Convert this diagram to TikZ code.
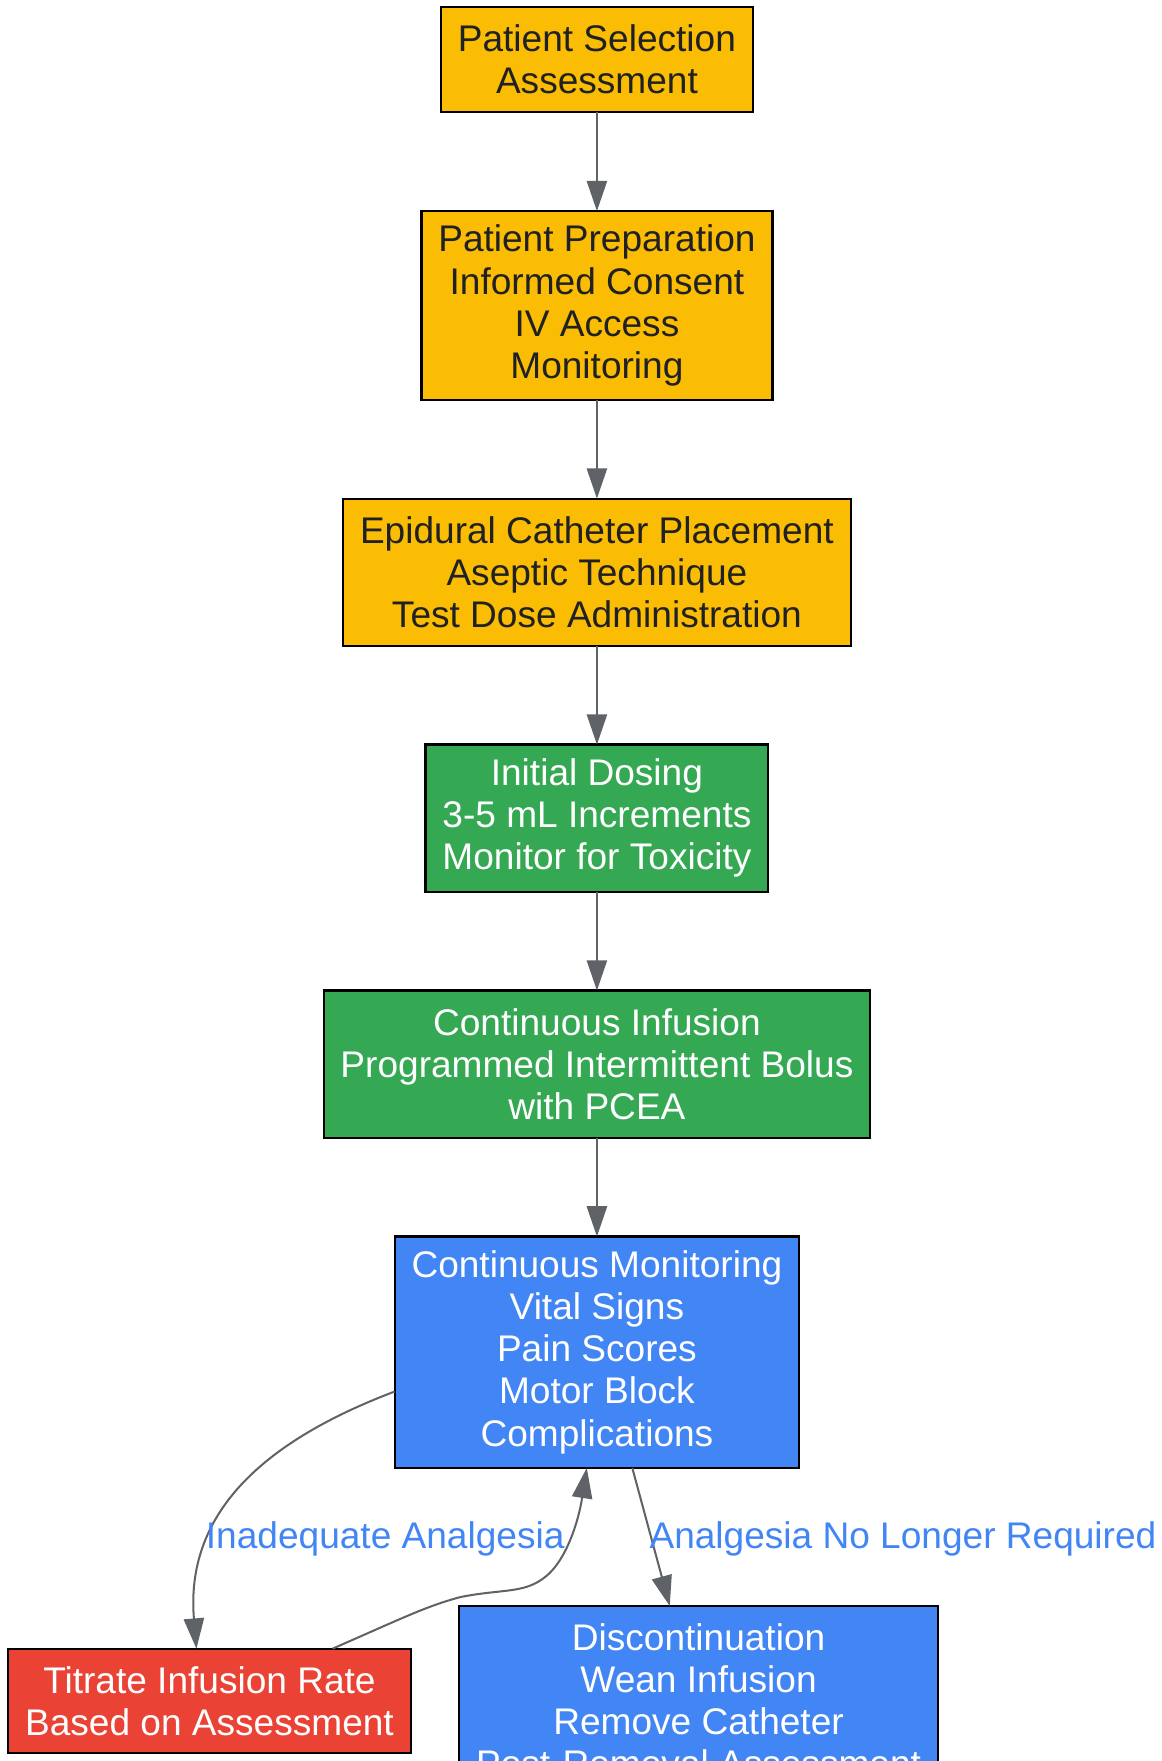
\documentclass[tikz,border=0pt]{standalone}
\usepackage{fontspec}
\setmainfont{Liberation Sans}
\usetikzlibrary{positioning, arrows.meta}

\definecolor{prepyellow}{HTML}{FBBC04}
\definecolor{dosegreen}{HTML}{34A853}
\definecolor{monblue}{HTML}{4285F4}
\definecolor{titred}{HTML}{EA4335}
\definecolor{edgegray}{HTML}{5F6368}
\definecolor{darktext}{HTML}{202124}

\begin{document}
\begin{tikzpicture}[x=1pt, y=1pt]
    \tikzstyle{step box} = [draw=black, line width=2pt, rectangle, align=center, inner xsep=15pt, inner ysep=0pt, outer sep=0pt, font=\fontsize{33}{37.5}\selectfont];
    \tikzstyle{prep} = [step box, fill=prepyellow, text=darktext];
    \tikzstyle{dose} = [step box, fill=dosegreen, text=white];
    \tikzstyle{mon} = [step box, fill=monblue, text=white];
    \tikzstyle{titr} = [step box, fill=titred, text=white];
    \tikzstyle{flow} = [draw=edgegray, line width=1.8pt, -{Triangle[length=27pt, width=18pt]}];
    \tikzstyle{elabel} = [text=monblue, font=\fontsize{33}{37.5}\selectfont];

    \useasboundingbox (0, 0) rectangle (1034, -1568);

    \node[prep, minimum height=94pt] (select) at (531.5, -53) {Patient Selection\\Assessment};
    \node[prep, minimum height=168pt, below = 88pt of select] (prepare) {Patient Preparation\\Informed Consent\\IV Access\\Monitoring};
    \node[prep, minimum height=131pt, below = 88pt of prepare] (catheter) {Epidural Catheter Placement\\Aseptic Technique\\Test Dose Administration};
    \node[dose, minimum height=131pt, below = 88pt of catheter] (initial) {Initial Dosing\\3-5 mL Increments\\Monitor for Toxicity};
    \node[dose, minimum height=131pt, below = 88pt of initial] (infusion) {Continuous Infusion\\Programmed Intermittent Bolus\\with PCEA};
    \node[mon, minimum height=206pt, below = 88pt of infusion] (monitor) {Continuous Monitoring\\Vital Signs\\Pain Scores\\Motor Block\\Complications};

    \node[titr, minimum height=93pt] (titrate) at (186.5, -1514.5) {Titrate Infusion Rate\\Based on Assessment};
    \node[mon, minimum height=168pt, anchor=north] (stop) at (622, -1430) {Discontinuation\\Wean Infusion\\Remove Catheter\\Post-Removal Assessment};

    \draw[flow] (select) -- (prepare);
    \draw[flow] (prepare) -- (catheter);
    \draw[flow] (catheter) -- (initial);
    \draw[flow] (initial) -- (infusion);
    \draw[flow] (infusion) -- (monitor);

    \draw[flow] (monitor.191) .. controls (230, -1285) and (165, -1350) .. (titrate.104);
    \draw[flow] (titrate.23) .. controls (360, -1440) and (380, -1430) .. (410, -1422)
        .. controls (450, -1414) and (470, -1420) .. (490, -1400)
        .. controls (505, -1385) and (515, -1355) .. (monitor.265);
    \draw[flow] (monitor.287) -- (stop.107);

    \node[elabel] (lowpain) at (343, -1370) {Inadequate Analgesia};
    \node[elabel] (nomore) at (804, -1370) {Analgesia No Longer Required};
\end{tikzpicture}
\end{document}
